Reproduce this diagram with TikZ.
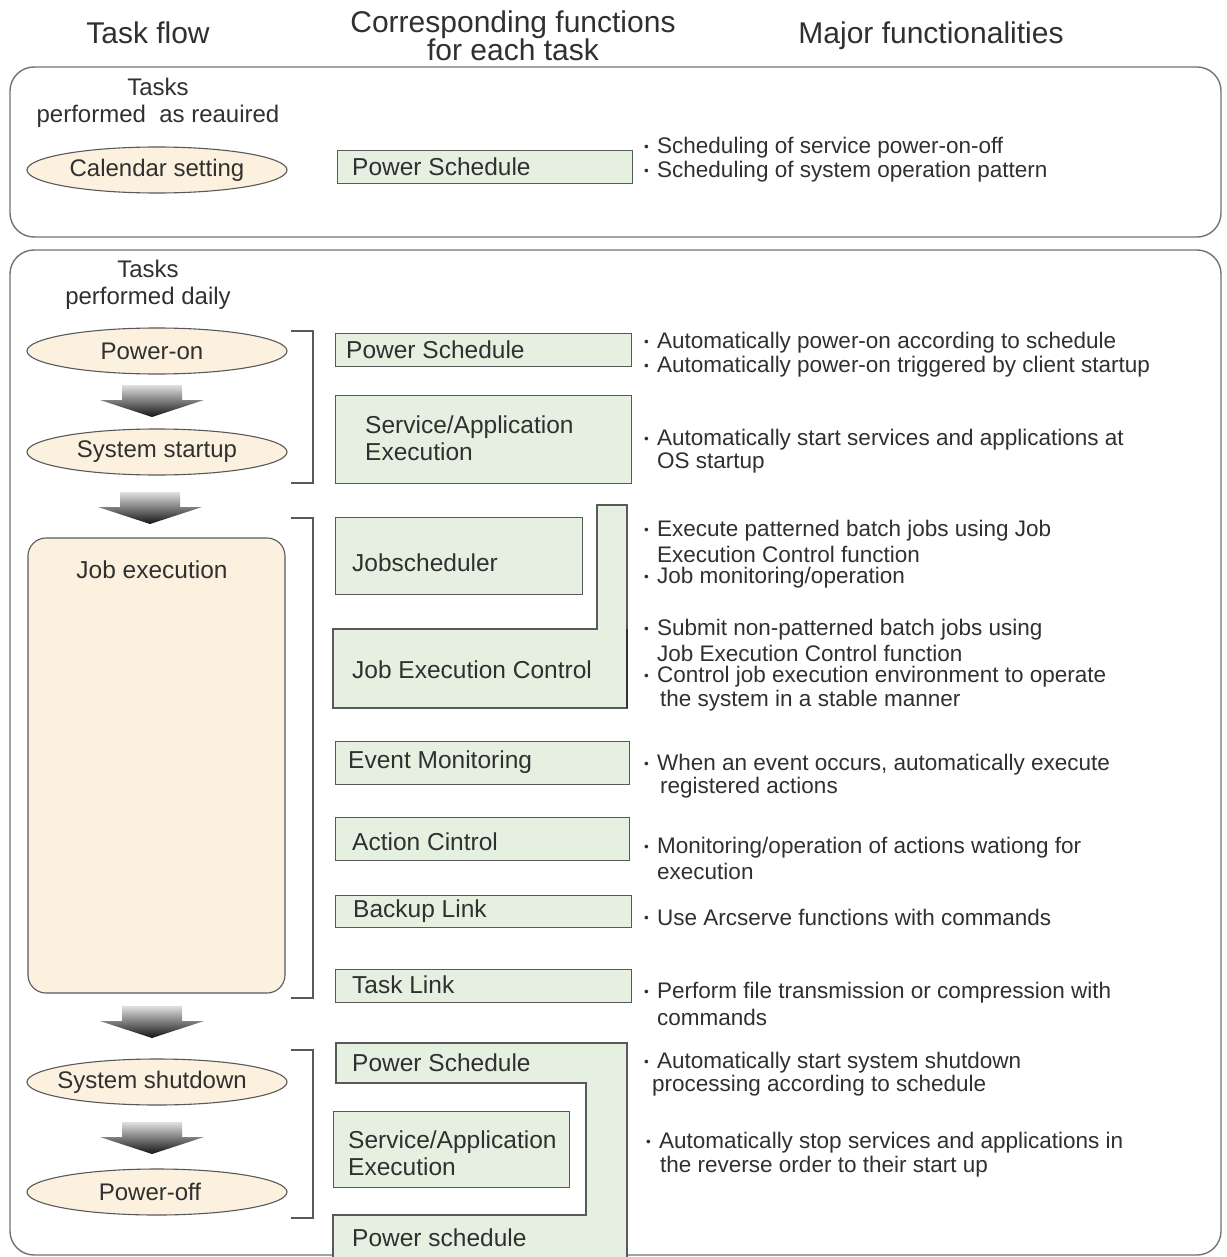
\documentclass[tikz,border=0pt]{standalone}
\usepackage{fontspec}
\setmainfont{Liberation Sans}
\usetikzlibrary{shapes.geometric}
\definecolor{beige}{HTML}{FCF1DE}
\definecolor{boxgreen}{HTML}{E6F0E0}
\definecolor{txt}{HTML}{303030}
\newcommand\bdot{\makebox[14pt][l]{\hspace{1pt}\raisebox{0.12em}{\scalebox{0.6}{•}}}}
\newcommand\flowarrow[3]{% name, center x, top y
  \shade[blk] (#2-30,#3) -- (#2+30,#3) -- (#2+30,#3+15) -- (#2+52,#3+15)
    -- (#2,#3+32) -- (#2-52,#3+15) -- (#2-30,#3+15) -- cycle;
  \coordinate (#1) at (#2,#3);}
\begin{document}
\begin{tikzpicture}[x=1pt,y=-1pt,
  every node/.style={text=txt, inner sep=0pt},
  hdr/.style={font=\fontsize{30}{28}\selectfont, align=center},
  sub/.style={font=\fontsize{24}{27}\selectfont, align=center},
  frame/.style={draw=black!55, line width=1.4pt, rounded corners=24pt},
  ell/.style={ellipse, draw=black!65, fill=beige, line width=1.1pt,
    minimum width=260pt, minimum height=46pt},
  elltxt/.style={font=\fontsize{24}{24}\selectfont},
  jobbox/.style={draw=black!65, fill=beige, line width=1.1pt, rounded corners=18pt},
  fbox/.style={draw=black!65, fill=boxgreen, line width=1.3pt},
  lbl/.style={anchor=west, align=left, font=\fontsize{24.5}{27}\selectfont},
  desc/.style={anchor=west, font=\fontsize{22.5}{24}\selectfont},
  brk/.style={draw=black!65, line width=1.1pt},
  blk/.style={top color=black!12, bottom color=black!92, draw=none}
]
\useasboundingbox (0,0) rectangle (1226,1257);
\fill[white] (0,0) rectangle (1226,1257);

% headers
\node[hdr] (h1) at (148,33) {Task flow};
\node[hdr] (h2) at (513,36) {Corresponding functions\\for each task};
\node[hdr] (h3) at (931,36) {Major functionalities};

% frames
\draw[frame] (10,67) rectangle (1221,237);
\draw[frame] (10,250) rectangle (1221,1255);

% ---- top frame
\node[sub] (t1) at (158,103) {Tasks\\performed\ \ as reauired};
\node[ell] (cal) at (157,170) {};
\node[elltxt] (calt) at (cal) {Calendar setting};
\node[fbox, anchor=north west, minimum width=295pt, minimum height=33pt] (ps0) at (337,150) {};
\node[lbl] (ps0t) at (352,167) {Power Schedule};
\node[desc] (d01) at (643,148) {\bdot Scheduling of service power-on-off};
\node[desc] (d02) at (643,172) {\bdot Scheduling of system operation pattern};

% ---- daily frame, left column
\node[sub] (t2) at (148,285) {Tasks\\performed daily};
\node[ell] (pon) at (157,351) {};
\node[elltxt] (pont) at (152,351) {Power-on};
\flowarrow{a1}{152}{385}
\node[ell] (sst) at (157,452) {};
\node[elltxt] (sstt) at (sst) {System startup};
\flowarrow{a2}{150}{492}
\draw[jobbox] (28,538) rectangle (285,993);
\node[font=\fontsize{24.5}{27}\selectfont] (job) at (152,570) {Job execution};
\flowarrow{a3}{152}{1006}
\node[ell] (ssd) at (157,1082) {};
\node[elltxt] (ssdt) at (152,1082) {System shutdown};
\flowarrow{a4}{152}{1122}
\node[ell] (poff) at (157,1192) {};
\node[elltxt] (pofft) at (150,1192) {Power-off};

% brackets
\draw[brk] (291,331) -- (313,331) -- (313,483) -- (291,483);
\draw[brk] (291,518) -- (313,518) -- (313,998) -- (291,998);
\draw[brk] (291,1050) -- (313,1050) -- (313,1218) -- (291,1218);

% ---- middle column
\node[fbox, anchor=north west, minimum width=296pt, minimum height=33pt] (ps1) at (335,333) {};
\node[lbl] (ps1t) at (346,350) {Power Schedule};
\node[fbox, anchor=north west, minimum width=296pt, minimum height=88pt] (sae1) at (335,395) {};
\node[lbl] (sae1t) at (365,438.5) {Service/Application\\Execution};
\node[fbox, anchor=north west, minimum width=247pt, minimum height=77pt] (jsch) at (335,517) {};
\node[lbl] (jscht) at (352,563) {Jobscheduler};
\draw[fbox] (597,505) -- (627,505) -- (627,708) -- (333,708) -- (333,629) -- (597,629) -- cycle;
\draw[draw=black!80, line width=1.8pt] (627,629) -- (627,708);
\node[lbl] (ject) at (352,670) {Job Execution Control};
\node[fbox, anchor=north west, minimum width=294pt, minimum height=43pt] (evm) at (335,741) {};
\node[lbl] (evmt) at (348,762) {Event Monitoring};
\node[fbox, anchor=north west, minimum width=294pt, minimum height=43pt] (act) at (335,817) {};
\node[lbl] (actt) at (352,842) {Action Cintrol};
\node[fbox, anchor=north west, minimum width=296pt, minimum height=32pt] (bkl) at (335,895) {};
\node[lbl] (bklt) at (353,911) {Backup Link};
\node[fbox, anchor=north west, minimum width=296pt, minimum height=33pt] (tkl) at (335,969) {};
\node[lbl] (tklt) at (352,985) {Task Link};
\draw[fbox] (336,1043) -- (627,1043) -- (627,1262) -- (333,1262) -- (333,1215)
  -- (586,1215) -- (586,1083) -- (336,1083) -- cycle;
\node[lbl] (ps2t) at (352,1063) {Power Schedule};
\node[fbox, anchor=north west, minimum width=236pt, minimum height=76pt] (sae2) at (333,1111) {};
\node[lbl] (sae2t) at (348,1153) {Service/Application\\Execution};
\node[lbl] (ps3t) at (352,1238) {Power schedule};

% ---- right column
\node[desc] (d11) at (643,343) {\bdot Automatically power-on according to schedule};
\node[desc] (d12) at (643,367) {\bdot Automatically power-on triggered by client startup};
\node[desc] (d21) at (643,440) {\bdot Automatically start services and applications at};
\node[desc] (d22) at (657,463) {OS startup};
\node[desc] (d31) at (643,531) {\bdot Execute patterned batch jobs using Job};
\node[desc] (d32) at (657,554) {Execution Control function};
\node[desc] (d33) at (643,578) {\bdot Job monitoring/operation};
\node[desc] (d41) at (643,630) {\bdot Submit non-patterned batch jobs using};
\node[desc] (d42) at (657,653) {Job Execution Control function};
\node[desc] (d43) at (643,677) {\bdot Control job execution environment to operate};
\node[desc] (d44) at (660,701) {the system in a stable manner};
\node[desc] (d51) at (643,765) {\bdot When an event occurs, automatically execute};
\node[desc] (d52) at (660,788) {registered actions};
\node[desc] (d61) at (643,848) {\bdot Monitoring/operation of actions wationg for};
\node[desc] (d62) at (657,871) {execution};
\node[desc] (d71) at (643,917) {\bdot Use Arcserve functions with commands};
\node[desc] (d81) at (643,993) {\bdot Perform file transmission or compression with};
\node[desc] (d82) at (657,1017) {commands};
\node[desc] (d91) at (643,1063) {\bdot Automatically start system shutdown};
\node[desc] (d92) at (652,1086) {processing according to schedule};
\node[desc] (d101) at (645,1143) {\bdot Automatically stop services and applications in};
\node[desc] (d102) at (660,1167) {the reverse order to their start up};
\end{tikzpicture}
\end{document}
